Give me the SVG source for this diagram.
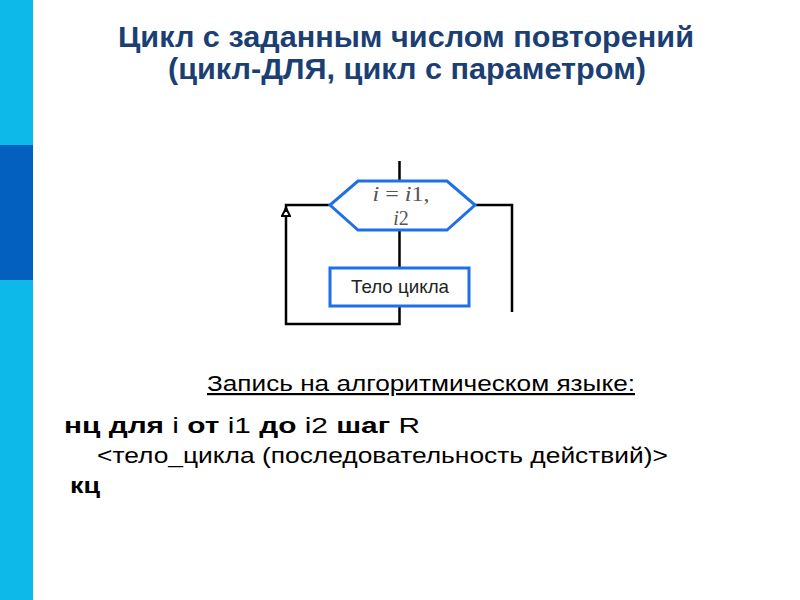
<svg xmlns="http://www.w3.org/2000/svg" width="800" height="600" viewBox="0 0 800 600">
<style>
.title{font-family:"Liberation Sans",Arial,sans-serif;font-weight:bold;font-size:30px;fill:#1B3F73;text-anchor:middle}
.ln{stroke:#000;stroke-width:2.5;fill:none}
.blue{stroke:#1F6FE6;stroke-width:3;fill:#fff}
.code{font-family:"Liberation Sans",Arial,sans-serif;font-size:22px;fill:#000}
.b{font-weight:bold}
.hex{font-family:"Liberation Serif","Times New Roman",serif;font-size:20px;fill:#555;text-anchor:middle}
</style>
<defs>
<marker id="arr" viewBox="0 0 10 10" refX="9" refY="5" markerWidth="4" markerHeight="4" orient="auto" markerUnits="strokeWidth">
<path d="M1,1 L9,5 L1,9 Z" fill="#fff" stroke="#000" stroke-width="2"/>
</marker>
</defs>
<rect x="0" y="0" width="800" height="600" fill="#fff"/>
<rect x="0" y="0" width="33" height="600" fill="#0DB9E9"/>
<rect x="0" y="145" width="33" height="135" fill="#0460BF"/>
<text class="title" x="406" y="47" textLength="576" lengthAdjust="spacingAndGlyphs">Цикл с заданным числом повторений</text>
<text class="title" x="407" y="79" textLength="478" lengthAdjust="spacingAndGlyphs">(цикл-ДЛЯ, цикл с параметром)</text>
<g id="connectors">
<line class="ln" x1="399.5" y1="161" x2="399.5" y2="181"/>
<line class="ln" x1="399.5" y1="230" x2="399.5" y2="268"/>
<polyline class="ln" points="399.5,306 399.5,324 286,324 286,208" marker-end="url(#arr)"/>
<polyline class="ln" points="330,205 286,205 286,212"/>
<polyline class="ln" points="475,205 512,205 512,312"/>
</g>
<g id="node-loop">
<polygon class="blue" points="358,181 447,181 475,205 447,230 358,230 330,205"/>
<text class="hex" x="401" y="201" textLength="57" lengthAdjust="spacingAndGlyphs"><tspan font-style="italic">i</tspan> = <tspan font-style="italic">i</tspan>1,</text>
<text class="hex" x="401" y="225"><tspan font-style="italic">i</tspan>2</text>
</g>
<g id="node-body">
<rect class="blue" x="330" y="268" width="139" height="38"/>
<text x="400" y="293" font-family="Liberation Sans,Arial,sans-serif" font-size="19" fill="#222" text-anchor="middle" textLength="98" lengthAdjust="spacingAndGlyphs">Тело цикла</text>
</g>
<g id="code">
<text class="code" x="207" y="391" font-size="24" textLength="428" lengthAdjust="spacingAndGlyphs" text-decoration="underline">Запись на алгоритмическом языке:</text>
<text class="code" x="64" y="433" textLength="356" lengthAdjust="spacingAndGlyphs"><tspan class="b">нц</tspan>  <tspan class="b">для</tspan>  i  <tspan class="b">от</tspan>  i1  <tspan class="b">до</tspan>  i2  <tspan class="b">шаг</tspan>  R</text>
<text class="code" x="97" y="463" font-size="23" textLength="571" lengthAdjust="spacingAndGlyphs">&lt;тело_цикла (последовательность действий)&gt;</text>
<text class="code b" x="70" y="493" font-size="23" textLength="30" lengthAdjust="spacingAndGlyphs">кц</text>
</g>
</svg>
